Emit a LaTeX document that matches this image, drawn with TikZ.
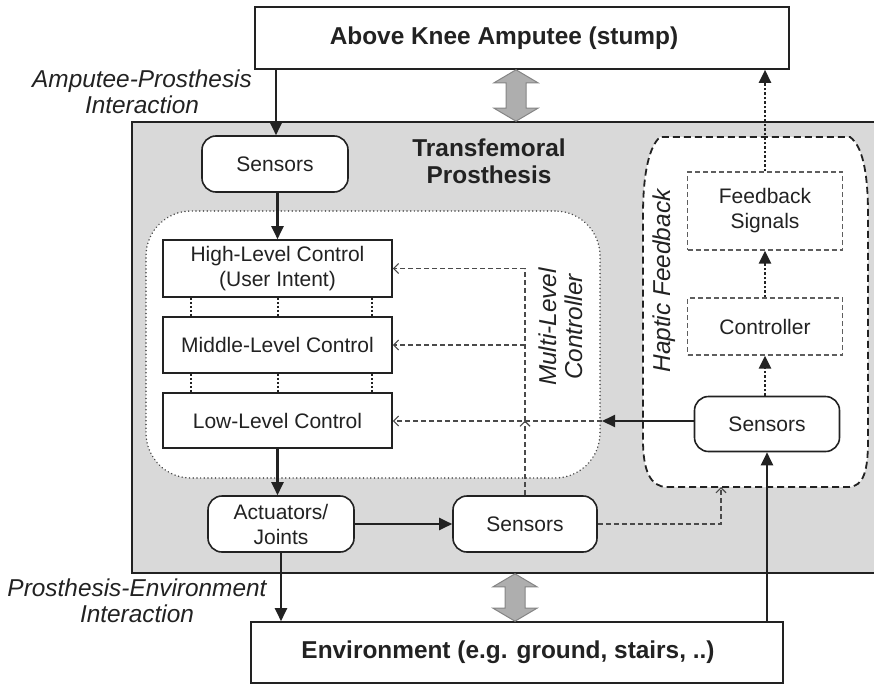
\documentclass[tikz,border=0pt]{standalone}
\usepackage{fontspec}
\setmainfont{Liberation Sans}
\usetikzlibrary{arrows.meta,calc}

\definecolor{ink}{HTML}{222222}
\definecolor{prosgray}{HTML}{D9D9D9}
\definecolor{sigink}{HTML}{4A4A4A}
\definecolor{boxdash}{HTML}{5E5E5E}
\definecolor{fatfill}{HTML}{AEAEAE}
\definecolor{fatedge}{HTML}{858585}

% two-headed wide grey arrow between two points on a vertical line
\newcommand\bothwaysarrow[2]{%
  \path let \p1=(#1), \p2=(#2) in
    [fill=fatfill, draw=fatedge, line width=1pt, line join=miter]
    (\x1,\y1) -- (\x1+22pt,\y1-13pt) -- (\x1+10pt,\y1-13pt)
    -- (\x1+10pt,\y2+13pt) -- (\x1+22pt,\y2+13pt) -- (\x1,\y2)
    -- (\x1-22pt,\y2+13pt) -- (\x1-10pt,\y2+13pt)
    -- (\x1-10pt,\y1-13pt) -- (\x1-22pt,\y1-13pt) -- cycle;}

\begin{document}
\begin{tikzpicture}[x=1pt,y=-1pt,
  txt/.style={font=\fontsize{21}{25}\selectfont, text=ink, align=center},
  title/.style={font=\bfseries\fontsize{24.4}{27}\selectfont, text=ink, align=center},
  lab/.style={font=\itshape\fontsize{24.4}{26}\selectfont, text=ink, align=center, inner sep=0pt},
  block/.style={txt, draw=ink, line width=1.6pt, fill=white, inner sep=0pt},
  rblock/.style={block, rounded corners=14pt},
  dblock/.style={block, draw=boxdash, line width=1.3pt, dash pattern=on 5pt off 3pt},
  bigbox/.style={title, draw=ink, line width=1.6pt, fill=white, inner sep=0pt},
  flow/.style={draw=ink, line width=2.1pt, -{Triangle[length=13pt,width=12pt]}},
  hflow/.style={flow, line width=2.4pt, dash pattern=on 2.5pt off 2pt},
  sigline/.style={draw=sigink, line width=1.1pt, dash pattern=on 5pt off 3pt},
  sigarrow/.style={sigline, -{Straight Barb[length=5pt,width=10pt,line width=1.1pt]}},
  levellink/.style={draw=ink, line width=2.2pt, dash pattern=on 2pt off 2pt},
]
\useasboundingbox (0,0) rectangle (874,685);

% prosthesis housing
\node[draw=ink, line width=1.6pt, fill=prosgray, minimum width=748pt, minimum height=451pt,
      inner sep=0pt] (pros) at (506,347.5) {};
\node[title, inner sep=0pt] (prostitle) at (489,161) {Transfemoral\\Prosthesis};

% multi-level controller region
\node[draw=sigink, line width=1.6pt, dash pattern=on 0.1pt off 3.6pt, line cap=round,
      fill=white, rounded corners=45pt, minimum width=454pt, minimum height=267pt,
      inner sep=0pt] (mlc) at (373,344.5) {};
\node[lab, rotate=90] (mlclab) at (561,327) {Multi-Level\\Controller};

% haptic feedback region
\path[draw=ink, fill=white, line width=1.8pt, dash pattern=on 7pt off 4pt]
  (667,487) -- (848,487) .. controls (864,487) and (868,470) .. (868,440)
  -- (868,215) .. controls (868,170) and (862,146) .. (850,137)
  -- (660,137) .. controls (650,146) and (643,170) .. (643,215)
  -- (643,440) .. controls (643,470) and (650,487) .. (667,487) -- cycle;
\node[lab, rotate=90] (haplab) at (664,281) {Haptic Feedback};
\coordinate (hapin) at (721,487);

% outer boxes (labels sit a little left of the box centre)
\node[bigbox, minimum width=534pt, minimum height=62pt] (amp) at (522,38)
  {Above Knee Amputee (stump)\hspace*{36pt}};
\node[bigbox, minimum width=532pt, minimum height=61pt] (env) at (517,652.5)
  {Environment (e.g. ground, stairs, ..)\hspace*{18pt}};

% prosthesis blocks
\node[rblock, minimum width=146pt, minimum height=56pt] (sensT) at (275,164) {Sensors};
\node[block, minimum width=229pt, minimum height=57pt] (high) at (277.5,268.5)
  {High-Level Control\\(User Intent)};
\node[block, minimum width=229pt, minimum height=56pt] (mid) at (277.5,345)
  {Middle-Level Control};
\node[block, minimum width=229pt, minimum height=55pt] (low) at (277.5,420.5)
  {Low-Level Control};
\node[rblock, minimum width=146pt, minimum height=56pt] (act) at (281,524)
  {Actuators/\\Joints};
\node[rblock, minimum width=144pt, minimum height=56pt] (sensM) at (525,524) {Sensors};

% haptic blocks
\node[dblock, minimum width=155pt, minimum height=78pt] (fbs) at (765,211)
  {Feedback\\Signals};
\node[dblock, minimum width=155pt, minimum height=57pt] (ctrl) at (765,326.5)
  {Controller};
\node[rblock, minimum width=145pt, minimum height=55pt] (sensR) at (767,424) {Sensors};
\coordinate (mlR) at (602,421);

% interaction labels
\node[lab] (lapi) at (142,92) {Amputee-Prosthesis\\Interaction};
\node[lab] (lpei) at (137,601) {Prosthesis-Environment\\Interaction};

% wide two-way arrows
\coordinate (fa1) at (516,0 |- amp.south);
\coordinate (fa2) at (516,0 |- pros.north);
\coordinate (fb1) at (515,0 |- pros.south);
\coordinate (fb2) at (515,0 |- env.north);
\bothwaysarrow{fa1}{fa2}
\bothwaysarrow{fb1}{fb2}

% level couplings
\foreach \xx in {191,278,372} {
  \draw[levellink] (high.south -| \xx,0) -- (mid.north -| \xx,0);
  \draw[levellink] (mid.south -| \xx,0) -- (low.north -| \xx,0);
}

% main signal flow
\draw[flow] (276,0 |- amp.south) -- (276,0 |- sensT.north);
\draw[flow] (sensT.south -| high.north) -- (high.north);
\draw[flow] (low.south) -- (low.south |- act.north);
\draw[flow] (act.east) -- (sensM.west);
\draw[flow] (act.south) -- (act.south |- env.north);
\draw[flow] (sensR.south |- env.north) -- (sensR.south);
\draw[flow] (sensR.west |- mlR) -- (mlR);

% haptic path
\draw[hflow] (sensR.north -| ctrl.south) -- (ctrl.south);
\draw[hflow] (ctrl.north) -- (fbs.south);
\draw[hflow] (fbs.north) -- (fbs.north |- amp.south);

% sensor feedback to the control levels
\draw[sigarrow] (sensM.north) -- (sensM.north |- low.east);
\draw[sigarrow] (sensM.north |- low.east) |- (high.east);
\draw[sigarrow] (sensM.north |- mid.east) -- (mid.east);
\draw[sigarrow] (mlR) -- (mlR -| low.east);
\draw[sigarrow] (sensM.east) -| (hapin);
\end{tikzpicture}
\end{document}
